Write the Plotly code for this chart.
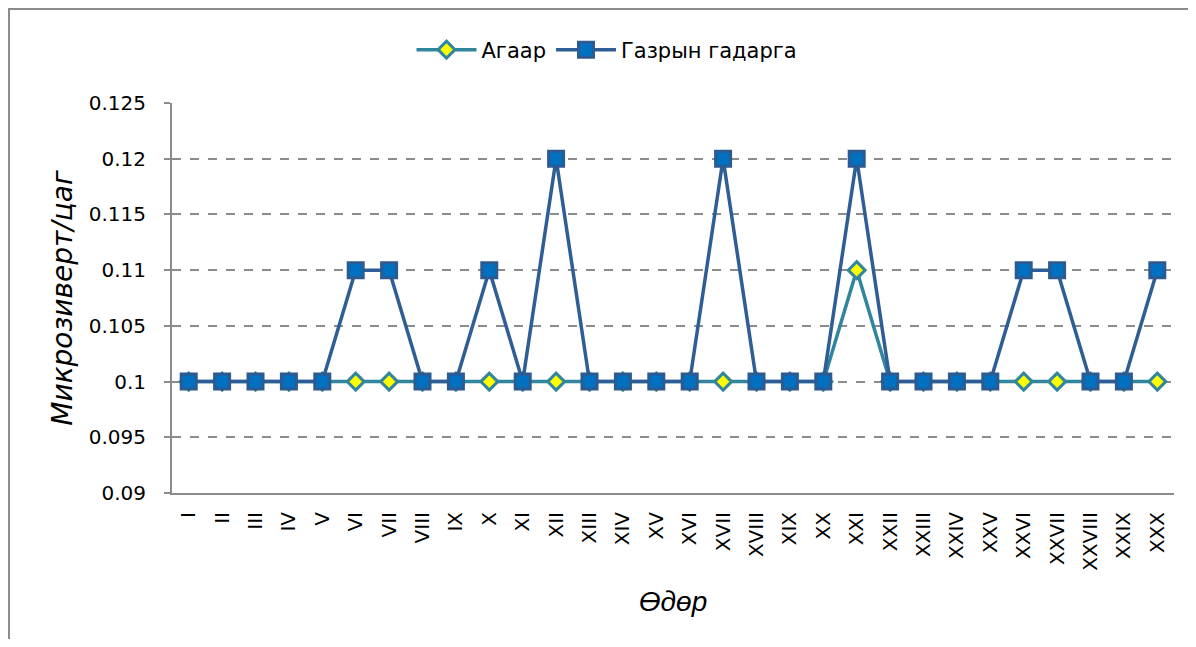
import plotly.graph_objects as go

days = ["I", "II", "III", "IV", "V", "VI", "VII", "VIII", "IX", "X",
        "XI", "XII", "XIII", "XIV", "XV", "XVI", "XVII", "XVIII", "XIX", "XX",
        "XXI", "XXII", "XXIII", "XXIV", "XXV", "XXVI", "XXVII", "XXVIII", "XXIX", "XXX"]
agaar = [0.10, 0.10, 0.10, 0.10, 0.10, 0.10, 0.10, 0.10, 0.10, 0.10,
         0.10, 0.10, 0.10, 0.10, 0.10, 0.10, 0.10, 0.10, 0.10, 0.10,
         0.11, 0.10, 0.10, 0.10, 0.10, 0.10, 0.10, 0.10, 0.10, 0.10]
gazryn = [0.10, 0.10, 0.10, 0.10, 0.10, 0.11, 0.11, 0.10, 0.10, 0.11,
          0.10, 0.12, 0.10, 0.10, 0.10, 0.10, 0.12, 0.10, 0.10, 0.10,
          0.12, 0.10, 0.10, 0.10, 0.10, 0.11, 0.11, 0.10, 0.10, 0.11]

# page has an 8px body margin, so the figure is drawn 8px in from the corner
OFF = 8
W, H = 1196 - 2 * OFF, 647 - 2 * OFF
L, T = 172 - OFF, 103 - OFF
R = W - (1174 - OFF)
B = H - (493 - OFF)
pw, ph = W - L - R, H - T - B


def px(xp):
    return (xp - OFF - L) / pw


def py(yp):
    return (H - B - (yp - OFF)) / ph


fig = go.Figure()
fig.add_trace(go.Scatter(
    x=days, y=agaar, name="Агаар", mode="lines+markers",
    line=dict(color="#31859C", width=3.5),
    marker=dict(symbol="diamond", size=13, color="#FFFF00",
                line=dict(color="#31859C", width=3)),
))
fig.add_trace(go.Scatter(
    x=days, y=gazryn, name="Газрын гадарга", mode="lines+markers",
    line=dict(color="#2F5D96", width=3.5),
    marker=dict(symbol="square", size=15, color="#0070C0",
                line=dict(color="#2C5A91", width=3)),
))

grey = "#8C8C8C"
tickfont = dict(family="DejaVu Sans, sans-serif", size=20, color="black")
fig.update_layout(
    width=W, height=H,
    margin=dict(l=L, r=R, t=T, b=B, autoexpand=False),
    paper_bgcolor="white", plot_bgcolor="white",
    font=dict(family="DejaVu Sans, sans-serif", color="black"),
    showlegend=True,
    legend=dict(orientation="h", x=px(607), xanchor="center",
                y=py(50), yanchor="middle", itemwidth=60,
                font=dict(family="DejaVu Sans, sans-serif", size=21),
                bgcolor="rgba(0,0,0,0)"),
    xaxis=dict(
        type="category", range=[-0.5, len(days) - 0.5], tickangle=-90,
        showline=True, linecolor=grey, linewidth=2, showgrid=False,
        ticks="", tickfont=tickfont, ticklabelstandoff=9,
        title=dict(text="Өдөр", standoff=22,
                   font=dict(family="Liberation Sans, Arial", size=28,
                             style="italic")),
    ),
    yaxis=dict(
        range=[0.09, 0.125], dtick=0.005, showline=True, linecolor=grey,
        linewidth=2, ticks="outside", ticklen=6, tickcolor=grey, tickwidth=2,
        showgrid=True, gridcolor=grey, gridwidth=1.5, griddash="dash",
        zeroline=False, tickfont=tickfont, ticklabelstandoff=14,
        title=dict(text="Микрозиверт/цаг", standoff=8,
                   font=dict(family="DejaVu Sans, sans-serif", size=28,
                             style="italic")),
    ),
    shapes=[
        dict(type="line", xref="paper", yref="paper", x0=px(8), x1=px(1196),
             y0=py(9), y1=py(9), line=dict(color=grey, width=2)),
        dict(type="line", xref="paper", yref="paper", x0=px(9), x1=px(9),
             y0=py(9), y1=py(647), line=dict(color=grey, width=2)),
    ],
)

fig.write_html("out.html")
